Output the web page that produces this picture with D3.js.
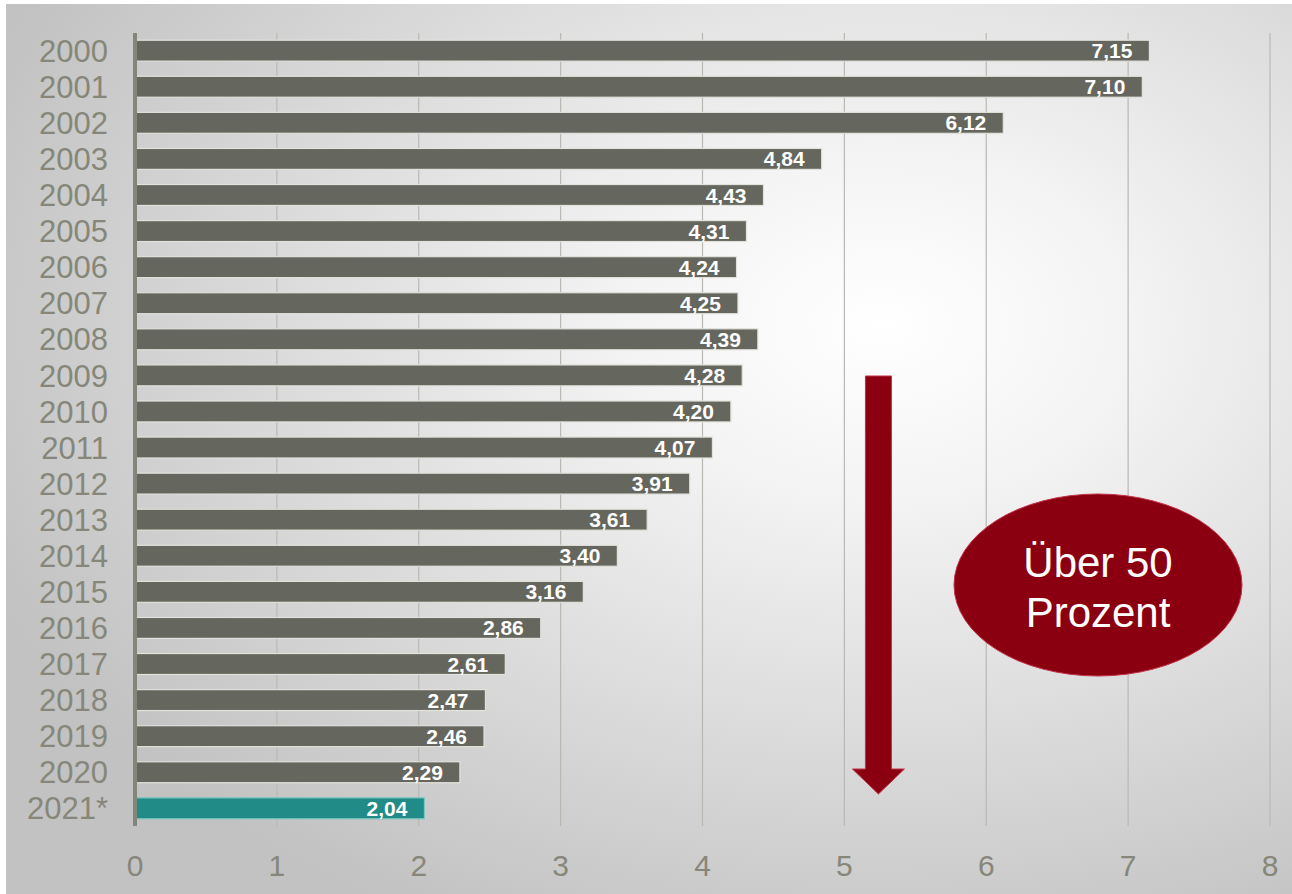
<!DOCTYPE html>
<html lang="de">
<head>
<meta charset="UTF-8">
<title>Werte 2000-2021</title>
<script src="https://d3js.org/d3.v7.min.js"></script>
<style>
  html, body { margin: 0; padding: 0; background: #fff; }
  svg { display: block; font-family: 'Liberation Sans', Arial, sans-serif; }
</style>
</head>
<body>
<svg id="chart" width="1292" height="894"></svg>
<script>
const years = ['2000','2001','2002','2003','2004','2005','2006','2007','2008','2009','2010',
  '2011','2012','2013','2014','2015','2016','2017','2018','2019','2020','2021*'];
const values = [7.15, 7.10, 6.12, 4.84, 4.43, 4.31, 4.24, 4.25, 4.39, 4.28, 4.20,
  4.07, 3.91, 3.61, 3.40, 3.16, 2.86, 2.61, 2.47, 2.46, 2.29, 2.04];
const xTicks = [0, 1, 2, 3, 4, 5, 6, 7, 8];

const data = years.map((y, i) => ({ year: y, value: values[i] }));

const svg = d3.select('#chart');
const W = +svg.attr('width'), H = +svg.attr('height');

// background with radial light spot
const defs = svg.append('defs');
const grad = defs.append('radialGradient').attr('id', 'bg')
  .attr('cx', '0.68').attr('cy', '0.36').attr('r', '0.75');
grad.append('stop').attr('offset', '0%').attr('stop-color', '#ffffff');
grad.append('stop').attr('offset', '25%').attr('stop-color', '#f4f4f4');
grad.append('stop').attr('offset', '100%').attr('stop-color', '#c2c2c2');

svg.append('rect').attr('x', 6).attr('y', 4).attr('width', W - 6).attr('height', H - 4)
  .attr('fill', 'url(#bg)');

const x = d3.scaleLinear().domain([0, 8]).range([135, 1270]);
const y = d3.scaleBand().domain(years).range([33, 826]).paddingInner(0.42).paddingOuter(0.2);

// vertical gridlines
svg.append('g').selectAll('line').data(xTicks.slice(1)).enter().append('line')
  .attr('x1', d => x(d)).attr('x2', d => x(d))
  .attr('y1', 33).attr('y2', 826)
  .attr('stroke', '#b9b9b3').attr('stroke-width', 1.2);

// bars
const fmt = v => v.toFixed(2).replace('.', ',');
const bars = svg.append('g').selectAll('g').data(data).enter().append('g');

bars.append('rect')
  .attr('x', x(0))
  .attr('y', d => y(d.year))
  .attr('width', d => x(d.value) - x(0))
  .attr('height', y.bandwidth())
  .attr('fill', d => d.year === '2021*' ? '#218b87' : '#65665e')
  .attr('stroke', d => d.year === '2021*' ? '#7cc6c2' : '#e2e2dc')
  .attr('stroke-width', 1.2);

bars.append('text')
  .attr('x', d => x(d.value) - 17)
  .attr('y', d => y(d.year) + y.bandwidth() / 2)
  .attr('dy', '0.36em')
  .attr('text-anchor', 'end')
  .attr('fill', '#fff')
  .attr('font-weight', 'bold')
  .attr('font-size', 21)
  .text(d => fmt(d.value));

// y axis line and year labels
svg.append('line')
  .attr('x1', x(0)).attr('x2', x(0)).attr('y1', 33).attr('y2', 826)
  .attr('stroke', '#85867a').attr('stroke-width', 4);

svg.append('g').selectAll('text').data(years).enter().append('text')
  .attr('x', 108)
  .attr('y', d => y(d) + y.bandwidth() / 2)
  .attr('dy', '0.36em')
  .attr('text-anchor', 'end')
  .attr('fill', '#86877a')
  .attr('font-size', 31)
  .text(d => d);

// x tick labels
svg.append('g').selectAll('text').data(xTicks).enter().append('text')
  .attr('x', d => x(d))
  .attr('y', 876)
  .attr('text-anchor', 'middle')
  .attr('fill', '#86877a')
  .attr('font-size', 30)
  .text(d => d);

// down arrow
const ax = x(5.24), shaftW = 26, headW = 52;
const aTop = 376, headTop = 769, tip = 794;
svg.append('path')
  .attr('d', `M${ax - shaftW / 2},${aTop} L${ax + shaftW / 2},${aTop} L${ax + shaftW / 2},${headTop}
    L${ax + headW / 2},${headTop} L${ax},${tip} L${ax - headW / 2},${headTop}
    L${ax - shaftW / 2},${headTop} Z`)
  .attr('fill', '#8b0010')
  .attr('stroke', '#c23048')
  .attr('stroke-width', 1);

// ellipse callout
const ell = svg.append('g').attr('transform', 'translate(1098,585)');
ell.append('ellipse').attr('rx', 144).attr('ry', 91)
  .attr('fill', '#8b0010').attr('stroke', '#c23048').attr('stroke-width', 1);
ell.append('text').attr('text-anchor', 'middle').attr('y', -8)
  .attr('fill', '#fff').attr('font-size', 42).text('Über 50');
ell.append('text').attr('text-anchor', 'middle').attr('y', 42)
  .attr('fill', '#fff').attr('font-size', 42).text('Prozent');
</script>
</body>
</html>
